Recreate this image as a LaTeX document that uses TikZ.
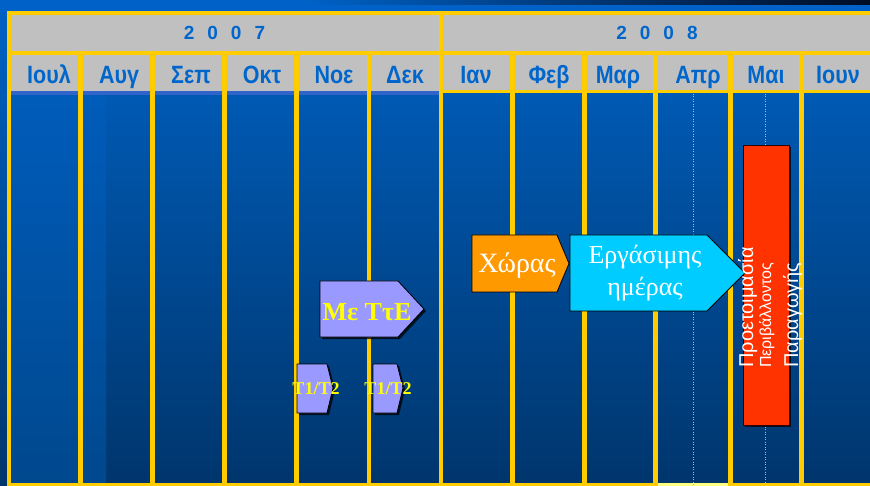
\documentclass[tikz,border=0pt]{standalone}
\usepackage{fontspec}
\setmainfont{Liberation Serif}
\setsansfont{Liberation Sans}
\usetikzlibrary{shadows}
\definecolor{bgtop}{HTML}{0062C4}
\definecolor{bgbot}{HTML}{00356C}
\definecolor{colltop}{HTML}{005CBA}
\definecolor{collbot}{HTML}{00488E}
\definecolor{stripblue}{HTML}{0062C8}
\definecolor{stripdark}{HTML}{000C24}
\definecolor{headgrey}{HTML}{C0C0C0}
\definecolor{bandblue}{HTML}{3064CA}
\definecolor{ylwc}{HTML}{FFCC00}
\definecolor{lightylw}{HTML}{FFFF80}
\definecolor{dotc}{HTML}{9CC0EC}
\definecolor{txtblue}{HTML}{0066CC}
\definecolor{lavc}{HTML}{9999FF}
\definecolor{orc}{HTML}{FF9900}
\definecolor{cyc}{HTML}{00CCFF}
\definecolor{redc}{HTML}{FF3300}
\definecolor{txtylw}{HTML}{FFFF00}
\tikzset{
  ylw/.style={draw=ylwc,line width=4pt},
  dotln/.style={draw=dotc,line width=0.7pt,dash pattern=on 1pt off 1.5pt},
  shd/.style={drop shadow={shadow xshift=2pt,shadow yshift=-2pt,fill=black,opacity=.75}},
  lavshape/.style={fill=lavc,draw=black,line width=0.8pt,shd},
  orshape/.style={fill=orc,draw=black,line width=0.8pt},
  cyshape/.style={fill=cyc,draw=black,line width=0.8pt},
  redbox/.style={fill=redc,draw=black!80!red,line width=0.8pt,shd},
  yearlbl/.style={text=txtblue,font=\sffamily\bfseries\fontsize{19}{19}\selectfont,inner sep=0pt},
  monthlbl/.style={text=txtblue,font=\sffamily\bfseries\fontsize{25}{25}\selectfont,inner sep=0pt,anchor=base,xscale=0.86},
  redtxt/.style={text=white,font=\sffamily,rotate=90,anchor=base west,inner sep=0pt},
}
\begin{document}
\begin{tikzpicture}[x=1pt,y=-1pt]
\useasboundingbox (0,0) rectangle (870,486);
% background
\shade[top color=bgtop,bottom color=bgbot] (0,0) rectangle (870,486);
\shade[top color=colltop,bottom color=collbot] (11,95) rectangle (106,483);
\fill[stripblue] (0,0) rectangle (870,12);
\shade[left color=stripblue,right color=stripdark] (300,0) rectangle (870,5);
% header cells
\fill[headgrey] (9,13) rectangle (870,91);
\fill[bandblue] (9,91) rectangle (441,95);
% grid
\draw[ylw] (7,13) -- (870,13);
\draw[ylw] (7,53) -- (870,53);
\draw[ylw,line width=3pt] (441,92) -- (870,92);
\draw[ylw,line width=3.5pt] (7,484.5) -- (870,484.5);
\draw[draw=lightylw,line width=3.5pt] (658,484.5) -- (729,484.5);
\foreach \xx in {9,441}
  \draw[ylw,line width=4.5pt] (\xx,11) -- (\xx,486);
\foreach \xx in {80.5,152.5,224.5,296.5,369,512.5,584.5,655.5,730.5,801.5}
  \draw[ylw,line width=4.5pt] (\xx,51) -- (\xx,486);
\draw[dotln] (693.5,94) -- (693.5,486);
\draw[dotln] (765.5,94) -- (765.5,486);
% header labels
\node[yearlbl] (y2007) at (224.5,33) {2\hspace{13pt}0\hspace{13pt}0\hspace{13pt}7};
\node[yearlbl] (y2008) at (657,33) {2\hspace{13pt}0\hspace{13pt}0\hspace{13pt}8};
\foreach \xx/\mm/\nn in {49/Ιουλ/m1,119/Αυγ/m2,191/Σεπ/m3,262/Οκτ/m4,334/Νοε/m5,405/Δεκ/m6,476/Ιαν/m7,549/Φεβ/m8,618/Μαρ/m9,698/Απρ/m10,766/Μαι/m11,838/Ιουν/m12}
  \node[monthlbl] (\nn) at (\xx,83.5) {\mm};
% tasks
\draw[lavshape] (320,281) -- (398,281) -- (424,309) -- (398,337) -- (320,337) -- cycle;
\node[text=txtylw,font=\bfseries\fontsize{26}{26}\selectfont,anchor=base,inner sep=0pt] (mete) at (367,320) {Με ΤτΕ};
\draw[lavshape] (297,364) -- (327,364) -- (333,388) -- (327,413) -- (297,413) -- cycle;
\draw[lavshape] (373,364) -- (397,364) -- (403,388) -- (397,413) -- (373,413) -- cycle;
\node[text=txtylw,font=\bfseries\fontsize{18}{18}\selectfont,anchor=base,inner sep=0pt] (t1) at (316,394.5) {T1/T2};
\node[text=txtylw,font=\bfseries\fontsize{18}{18}\selectfont,anchor=base,inner sep=0pt] (t2) at (388,394.5) {T1/T2};
\draw[orshape] (472,235) -- (557,235) -- (569,263.5) -- (557,292) -- (472,292) -- cycle;
\node[text=white,font=\fontsize{28}{28}\selectfont,anchor=base,inner sep=0pt] (xoras) at (517,273) {Χώρας};
\draw[redbox] (743,145) rectangle (789,425);
\draw[cyshape] (570,235) -- (707,235) -- (745,273) -- (707,311) -- (570,311) -- cycle;
\node[text=white,font=\fontsize{26}{32}\selectfont,align=center,anchor=base,inner sep=0pt] (ergas) at (645,295) {Εργάσιμης\\ημέρας};
\node[redtxt,font=\sffamily\fontsize{20}{20}\selectfont] (r1) at (753,368) {Προετοιμασία};
\node[redtxt,font=\sffamily\fontsize{16}{16}\selectfont] (r2) at (771,368) {Περιβάλλοντος};
\node[redtxt,font=\sffamily\fontsize{20}{20}\selectfont] (r3) at (798,368) {Παραγωγής};
\end{tikzpicture}
\end{document}
